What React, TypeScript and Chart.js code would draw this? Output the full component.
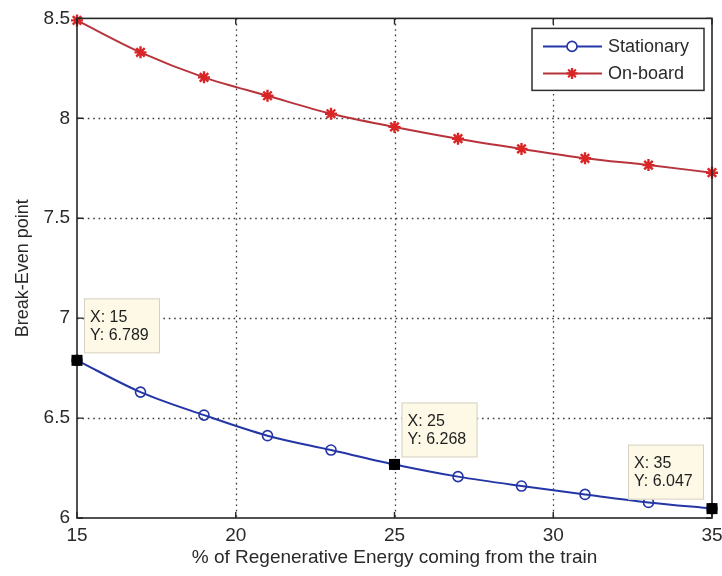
import { useEffect, useRef } from "react";
import { Chart, registerables } from "chart.js";

Chart.register(...registerables);

// Share of regenerative energy coming from the train (%)
const energyShare = [15, 17, 19, 21, 23, 25, 27, 29, 31, 33, 35];
// Break-even point for each storage option
const stationary = [6.789, 6.63, 6.515, 6.412, 6.34, 6.268, 6.207, 6.16, 6.118, 6.078, 6.047];
const onBoard = [8.49, 8.33, 8.205, 8.113, 8.023, 7.957, 7.898, 7.847, 7.8, 7.766, 7.728];

const xTicks = [15, 20, 25, 30, 35];
const yTicks = [6, 6.5, 7, 7.5, 8, 8.5];

// Data tips pinned on the stationary curve
const tipX = [15, 25, 35];
const tipY = [6.789, 6.268, 6.047];

const FONT = "'Liberation Sans', Arial, Helvetica, sans-serif";
const BLUE = "#2436a6";
const RED_LINE = "#b8343c";
const RED_MARK = "#d92525";
const TEXT = "#2a2a2a";

function drawStar(ctx: CanvasRenderingContext2D, cx: number, cy: number, r: number) {
  ctx.beginPath();
  ctx.moveTo(cx - r, cy);
  ctx.lineTo(cx + r, cy);
  ctx.moveTo(cx, cy - r);
  ctx.lineTo(cx, cy + r);
  const d = r * 0.7;
  ctx.moveTo(cx - d, cy - d);
  ctx.lineTo(cx + d, cy + d);
  ctx.moveTo(cx - d, cy + d);
  ctx.lineTo(cx + d, cy - d);
  ctx.stroke();
}

const axesFrame = {
  id: "axesFrame",
  beforeDatasetsDraw(chart: any) {
    const { ctx, chartArea: a, scales } = chart;
    const x = scales.x;
    const y = scales.y;
    ctx.save();
    ctx.strokeStyle = "#3c3c3c";
    ctx.lineWidth = 1.3;
    ctx.setLineDash([1.6, 3.8]);
    for (const v of xTicks) {
      const px = Math.round(x.getPixelForValue(v)) + 0.5;
      if (px <= a.left + 2 || px >= a.right - 2) continue;
      ctx.beginPath();
      ctx.moveTo(px, a.top);
      ctx.lineTo(px, a.bottom);
      ctx.stroke();
    }
    for (const v of yTicks) {
      const py = Math.round(y.getPixelForValue(v)) + 0.5;
      if (py <= a.top + 2 || py >= a.bottom - 2) continue;
      ctx.beginPath();
      ctx.moveTo(a.left, py);
      ctx.lineTo(a.right, py);
      ctx.stroke();
    }
    ctx.restore();
  },
  afterDatasetsDraw(chart: any) {
    const { ctx, chartArea: a, scales } = chart;
    const x = scales.x;
    const y = scales.y;
    ctx.save();

    // axes box
    ctx.strokeStyle = "#262626";
    ctx.lineWidth = 1.6;
    ctx.strokeRect(a.left, a.top, a.right - a.left, a.bottom - a.top);

    // inward tick marks on all four sides
    const tl = 6;
    ctx.lineWidth = 1.4;
    for (const v of xTicks) {
      const px = x.getPixelForValue(v);
      ctx.beginPath();
      ctx.moveTo(px, a.bottom);
      ctx.lineTo(px, a.bottom - tl);
      ctx.moveTo(px, a.top);
      ctx.lineTo(px, a.top + tl);
      ctx.stroke();
    }
    for (const v of yTicks) {
      const py = y.getPixelForValue(v);
      ctx.beginPath();
      ctx.moveTo(a.left, py);
      ctx.lineTo(a.left + tl, py);
      ctx.moveTo(a.right, py);
      ctx.lineTo(a.right - tl, py);
      ctx.stroke();
    }

    // data tips: black square on the point and a label box
    const w = 76;
    const h = 55;
    tipX.forEach((xv, i) => {
      const yv = tipY[i];
      const px = x.getPixelForValue(xv);
      const py = y.getPixelForValue(yv);
      ctx.fillStyle = "#000";
      ctx.fillRect(px - 5.5, py - 5.5, 11, 11);
      const atRight = xv >= x.max;
      const bx = atRight ? px - 84 : px + 7;
      const by = py - (atRight ? 64 : 62);
      ctx.fillStyle = "#fdf9e6";
      ctx.fillRect(bx, by, w, h);
      ctx.strokeStyle = "#d6d2c2";
      ctx.lineWidth = 1;
      ctx.strokeRect(bx + 0.5, by + 0.5, w - 1, h - 1);
      ctx.fillStyle = "#1e1e1e";
      ctx.font = `16px ${FONT}`;
      ctx.textBaseline = "middle";
      ctx.textAlign = "left";
      ctx.fillText(`X: ${xv}`, bx + 6, by + 19);
      ctx.fillText(`Y: ${yv.toFixed(3)}`, bx + 6, by + 37);
    });

    // legend
    const lw = 172;
    const lh = 62;
    const lx = a.right - 8 - lw;
    const ly = a.top + 10;
    ctx.fillStyle = "#ffffff";
    ctx.fillRect(lx, ly, lw, lh);
    ctx.strokeStyle = "#2e2e2e";
    ctx.lineWidth = 1.5;
    ctx.strokeRect(lx, ly, lw, lh);
    const rows = [
      { label: "Stationary", line: BLUE, mark: "circle" },
      { label: "On-board", line: RED_LINE, mark: "star" },
    ];
    rows.forEach((r, i) => {
      const cy = ly + 18 + i * 27;
      ctx.strokeStyle = r.line;
      ctx.lineWidth = 2;
      ctx.beginPath();
      ctx.moveTo(lx + 11, cy);
      ctx.lineTo(lx + 70, cy);
      ctx.stroke();
      if (r.mark === "circle") {
        ctx.fillStyle = "#fff";
        ctx.beginPath();
        ctx.arc(lx + 40, cy, 5, 0, Math.PI * 2);
        ctx.fill();
        ctx.lineWidth = 1.6;
        ctx.stroke();
      } else {
        ctx.strokeStyle = RED_MARK;
        ctx.lineWidth = 2.2;
        drawStar(ctx, lx + 40, cy, 5.5);
      }
      ctx.fillStyle = TEXT;
      ctx.font = `18px ${FONT}`;
      ctx.textBaseline = "middle";
      ctx.textAlign = "left";
      ctx.fillText(r.label, lx + 76, cy + 1);
    });

    ctx.restore();
  },
};

export default function App() {
  const canvasRef = useRef<HTMLCanvasElement | null>(null);

  useEffect(() => {
    document.body.style.margin = "0";
    const canvas = canvasRef.current;
    if (!canvas) return;

    const chart = new Chart(canvas, {
      type: "line",
      data: {
        datasets: [
          {
            label: "On-board",
            data: energyShare.map((v, i) => ({ x: v, y: onBoard[i] })),
            borderColor: RED_LINE,
            borderWidth: 2,
            pointStyle: "star",
            pointRadius: 6,
            pointBorderColor: RED_MARK,
            pointBackgroundColor: RED_MARK,
            pointBorderWidth: 2.4,
            cubicInterpolationMode: "monotone",
            clip: false,
          },
          {
            label: "Stationary",
            data: energyShare.map((v, i) => ({ x: v, y: stationary[i] })),
            borderColor: BLUE,
            borderWidth: 2,
            pointStyle: "circle",
            pointRadius: 5,
            pointBorderColor: BLUE,
            pointBackgroundColor: "rgba(255,255,255,0)",
            pointBorderWidth: 1.6,
            cubicInterpolationMode: "monotone",
            clip: false,
          },
        ],
      },
      options: {
        responsive: false,
        animation: false,
        events: [],
        layout: { padding: { top: 17, right: 10, left: 0, bottom: 0 } },
        plugins: {
          legend: { display: false },
          tooltip: { enabled: false },
          title: { display: false },
        },
        scales: {
          x: {
            type: "linear",
            min: 15,
            max: 35,
            afterBuildTicks: (s: any) => {
              s.ticks = xTicks.map((v) => ({ value: v }));
            },
            afterFit: (s: any) => {
              s.height = 58;
              s.paddingLeft = 0;
              s.paddingRight = 0;
            },
            grid: { display: false, drawTicks: false },
            border: { display: false },
            ticks: {
              color: TEXT,
              padding: 6,
              font: { family: FONT, size: 19 },
              maxRotation: 0,
              autoSkip: false,
              callback: (v: any) => String(v),
            },
            title: {
              display: true,
              text: "% of Regenerative Energy coming from the train",
              color: TEXT,
              font: { family: FONT, size: 19 },
              padding: { top: 0, bottom: 7 },
            },
          },
          y: {
            type: "linear",
            min: 6,
            max: 8.5,
            afterBuildTicks: (s: any) => {
              s.ticks = yTicks.map((v) => ({ value: v }));
            },
            afterFit: (s: any) => {
              s.width = 77;
            },
            grid: { display: false, drawTicks: false },
            border: { display: false },
            ticks: {
              color: TEXT,
              padding: 7,
              font: { family: FONT, size: 19 },
              autoSkip: false,
              callback: (v: any) => String(v),
            },
            title: {
              display: true,
              text: "Break-Even point",
              color: TEXT,
              font: { family: FONT, size: 18 },
              padding: { top: 12, bottom: 0 },
            },
          },
        },
      },
      plugins: [axesFrame],
    });

    return () => chart.destroy();
  }, []);

  return (
    <div style={{ width: 722, height: 576, background: "#fff" }}>
      <canvas ref={canvasRef} width={722} height={576} style={{ display: "block" }} />
    </div>
  );
}
